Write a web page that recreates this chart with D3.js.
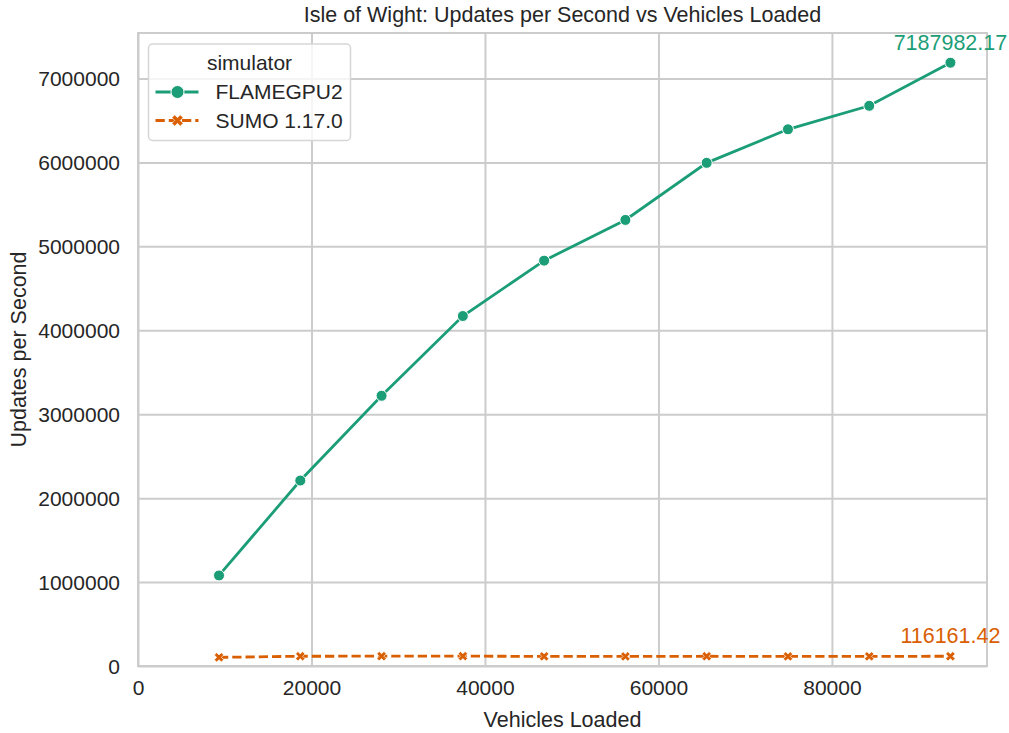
<!DOCTYPE html>
<html>
<head>
<meta charset="utf-8">
<script src="https://cdn.jsdelivr.net/npm/d3@7"></script>
<style>
    body { margin: 0; background: #fff; }
    svg { display: block; font-family: "Liberation Sans", Arial, sans-serif; }
</style>
</head>
<body>
<svg id="chart" width="1009" height="733"></svg>
<script>
// vehicles loaded (x) for each run
const vehicles = [9340, 18710, 28080, 37450, 46820, 56190, 65560, 74930, 84300, 93660];
// updates per second, FLAMEGPU2
const flamegpu = [1079000, 2210000, 3220000, 4170000, 4830000, 5315000, 5995000, 6395000, 6675000, 7187982.17];
// updates per second, SUMO 1.17.0
const sumo = [103000, 116000, 117000, 117000, 115000, 114000, 116000, 114000, 115000, 116161.42];

const xTicks = [0, 20000, 40000, 60000, 80000];
const yTicks = [0, 1000000, 2000000, 3000000, 4000000, 5000000, 6000000, 7000000];

const series = [
    { name: 'FLAMEGPU2', values: flamegpu, color: '#1b9e77', marker: 'circle', dash: null },
    { name: 'SUMO 1.17.0', values: sumo, color: '#d95f02', marker: 'x', dash: '9.25,4' }
];

const width = 1009;
const height = 733;
const margins = { top: 33, right: 22, bottom: 67, left: 138 };
const textColor = '#262626';
const gridColor = '#cccccc';
const fontSize = '21px';

const svg = d3.select('#chart');
const iw = width - margins.left - margins.right;
const ih = height - margins.top - margins.bottom;

// matplotlib-like 5% margin on the upper end, lower end pinned at 0
const xMin = d3.min(vehicles), xMax = d3.max(vehicles);
const allY = flamegpu.concat(sumo);
const yMin = d3.min(allY), yMax = d3.max(allY);

const x = d3.scaleLinear()
    .domain([0, xMax + 0.05 * (xMax - xMin)])
    .range([0, iw]);
const y = d3.scaleLinear()
    .domain([0, yMax + 0.05 * (yMax - yMin)])
    .range([ih, 0]);

const g = svg.append('g')
    .attr('transform', `translate(${margins.left},${margins.top})`);

// grid
g.append('g')
    .attr('class', 'grid-x')
    .attr('transform', `translate(0,${ih})`)
    .call(d3.axisBottom(x).tickValues(xTicks).tickSize(-ih).tickFormat(''))
    .call(s => s.select('.domain').remove())
    .selectAll('line')
    .attr('stroke', gridColor)
    .attr('stroke-width', 2);

g.append('g')
    .attr('class', 'grid-y')
    .call(d3.axisLeft(y).tickValues(yTicks).tickSize(-iw).tickFormat(''))
    .call(s => s.select('.domain').remove())
    .selectAll('line')
    .attr('stroke', gridColor)
    .attr('stroke-width', 2);

// tick labels
const xAxis = g.append('g')
    .attr('transform', `translate(0,${ih})`)
    .call(d3.axisBottom(x).tickValues(xTicks).tickSize(0).tickPadding(14).tickFormat(d3.format('d')));
xAxis.select('.domain').remove();
xAxis.selectAll('text')
    .attr('fill', textColor)
    .style('font-size', fontSize)
    .style('font-family', null);

const yAxis = g.append('g')
    .call(d3.axisLeft(y).tickValues(yTicks).tickSize(0).tickPadding(18).tickFormat(d3.format('d')));
yAxis.select('.domain').remove();
yAxis.selectAll('text')
    .attr('fill', textColor)
    .attr('dy', '0.35em')
    .style('font-size', fontSize)
    .style('font-family', null);

// frame
g.append('rect')
    .attr('width', iw)
    .attr('height', ih)
    .attr('fill', 'none')
    .attr('stroke', gridColor)
    .attr('stroke-width', 2);

// lines
const line = d3.line()
    .x((d, i) => x(vehicles[i]))
    .y(d => y(d));

const xSymbol = d3.symbol().type(d3.symbolCross);

function drawMarker(sel, s, size) {
    if (s.marker === 'circle') {
        sel.append('circle')
            .attr('r', size)
            .attr('fill', s.color)
            .attr('stroke', '#fff')
            .attr('stroke-width', 1);
    } else {
        sel.append('path')
            .attr('d', xSymbol.size(size * size * 2.2)())
            .attr('transform', 'rotate(45)')
            .attr('fill', s.color)
            .attr('stroke', '#fff')
            .attr('stroke-width', 0.6);
    }
}

series.forEach(s => {
    g.append('path')
        .datum(s.values)
        .attr('fill', 'none')
        .attr('stroke', s.color)
        .attr('stroke-width', 2.8)
        .attr('stroke-dasharray', s.dash)
        .attr('d', line);

    g.append('g')
        .selectAll('g')
        .data(s.values)
        .join('g')
        .attr('transform', (d, i) => `translate(${x(vehicles[i])},${y(d)})`)
        .each(function () { drawMarker(d3.select(this), s, s.marker === 'circle' ? 5.5 : 5); });

    // annotate the last point
    const last = s.values.length - 1;
    g.append('text')
        .attr('x', x(vehicles[last]))
        .attr('y', y(s.values[last]) - 13)
        .attr('text-anchor', 'middle')
        .attr('fill', s.color)
        .style('font-size', '21.5px')
        .text(d3.format('.2f')(s.values[last]));
});

// legend
const legend = g.append('g')
    .attr('transform', 'translate(10.5,11)');

legend.append('rect')
    .attr('width', 202)
    .attr('height', 96.5)
    .attr('rx', 4)
    .attr('fill', '#fff')
    .attr('fill-opacity', 0.8)
    .attr('stroke', '#d6d6d6')
    .attr('stroke-width', 1.5);

legend.append('text')
    .attr('x', 101)
    .attr('y', 18.5)
    .attr('dy', '0.35em')
    .attr('text-anchor', 'middle')
    .attr('fill', textColor)
    .style('font-size', fontSize)
    .text('simulator');

series.forEach((s, i) => {
    const row = legend.append('g')
        .attr('transform', `translate(0,${48 + i * 28.5})`);
    row.append('line')
        .attr('x1', 7)
        .attr('x2', 50)
        .attr('stroke', s.color)
        .attr('stroke-width', 2.8)
        .attr('stroke-dasharray', s.dash ? '9.25,4' : null);
    const m = row.append('g').attr('transform', 'translate(29,0)');
    drawMarker(m, s, s.marker === 'circle' ? 6.5 : 6);
    row.append('text')
        .attr('x', 67)
        .attr('dy', '0.35em')
        .attr('fill', textColor)
        .style('font-size', fontSize)
        .text(s.name);
});

// titles
svg.append('text')
    .attr('x', margins.left + iw / 2)
    .attr('y', 22)
    .attr('text-anchor', 'middle')
    .attr('fill', textColor)
    .style('font-size', '21.5px')
    .text('Isle of Wight: Updates per Second vs Vehicles Loaded');

svg.append('text')
    .attr('x', margins.left + iw / 2)
    .attr('y', 727)
    .attr('text-anchor', 'middle')
    .attr('fill', textColor)
    .style('font-size', '21.5px')
    .text('Vehicles Loaded');

svg.append('text')
    .attr('transform', `translate(26,${margins.top + ih / 2}) rotate(-90)`)
    .attr('text-anchor', 'middle')
    .attr('fill', textColor)
    .style('font-size', '21.5px')
    .text('Updates per Second');
</script>
</body>
</html>
